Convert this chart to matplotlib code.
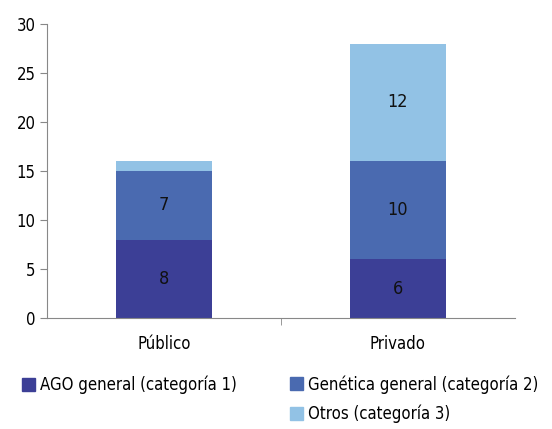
import matplotlib
matplotlib.use("Agg")
import matplotlib.pyplot as plt
from matplotlib.patches import Patch

plt.rcParams['font.family'] = ['DejaVu Sans']
plt.rcParams['font.stretch'] = 'condensed'

categories = ["Público", "Privado"]
ago = [8, 6]
genetica = [7, 10]
otros = [1, 12]
series_names = ["AGO general (categoría 1)", "Genética general (categoría 2)", "Otros (categoría 3)"]
colors = ["#3C3F96", "#4A6AB0", "#92C2E5"]

fig = plt.figure(figsize=(5.52, 4.29), dpi=100)
ax = fig.add_axes([0.085, 0.259, 0.848, 0.685])

x = range(len(categories))
w = 0.41
bottom = [0] * len(categories)
for vals, c in zip([ago, genetica, otros], colors):
    bars = ax.bar(x, vals, w, bottom=bottom, color=c, zorder=2)
    for b, v, b0 in zip(bars, vals, bottom):
        if v > 1:
            ax.text(b.get_x() + b.get_width() / 2, b0 + v / 2, str(v),
                    ha="center", va="center", fontsize=13, color="#111")
    bottom = [a + v for a, v in zip(bottom, vals)]

ax.set_xlim(-0.5, 1.5)
ax.set_ylim(0, 30)
ax.set_yticks(range(0, 31, 5))
ax.set_xticks(list(x))
ax.set_xticklabels(categories)
ax.set_xticks([0.5], minor=True)
ax.tick_params(axis="x", which="major", length=0, pad=12, labelsize=12)
ax.tick_params(axis="x", which="minor", length=5, color="#888")
ax.tick_params(axis="y", length=5, color="#888", labelsize=12, pad=3)
for s in ["top", "right"]:
    ax.spines[s].set_visible(False)
for s in ["left", "bottom"]:
    ax.spines[s].set_color("#888")

# legend split in two blocks like the original layout
kw = dict(frameon=False, fontsize=12, handlelength=0.8, handleheight=0.8,
          handletextpad=0.3, labelspacing=0.65, borderaxespad=0, borderpad=0)
fig.legend([Patch(color=colors[0])], [series_names[0]], loc="center left",
           bbox_to_anchor=(0.04, 1 - 385 / 429), **kw)
fig.legend([Patch(color=colors[1]), Patch(color=colors[2])], series_names[1:],
           loc="center left", bbox_to_anchor=(0.525, 1 - 399 / 429), **kw)

fig.savefig("out.png", dpi=100)
